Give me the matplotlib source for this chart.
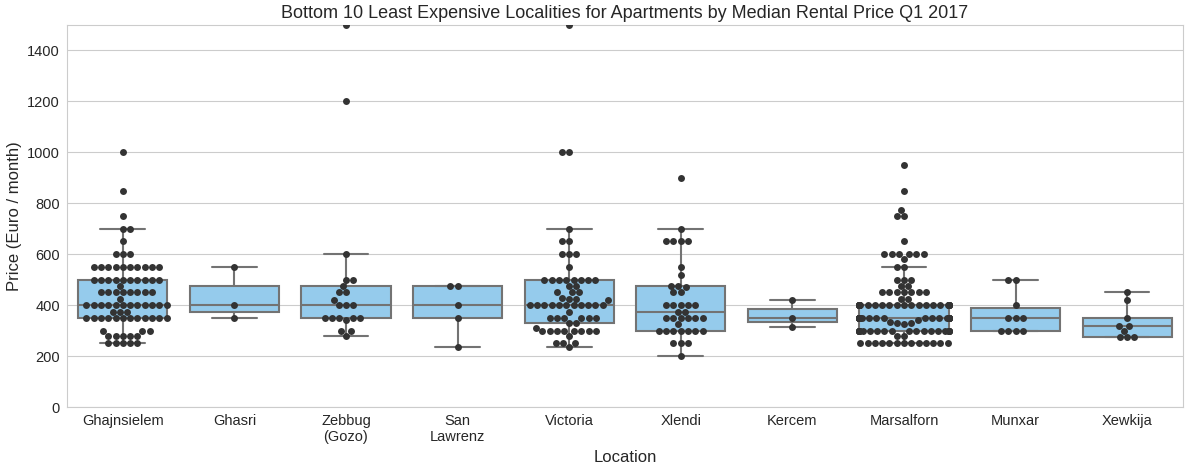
import numpy as np
import pandas as pd
import matplotlib
matplotlib.use('Agg')
import matplotlib.pyplot as plt
import seaborn as sns

# Monthly rent (Euro) per listing
ghajnsielem = ([250]*5 + [280]*5 + [300]*3 + [350]*12 + [375]*3 + [400]*12 + [425]
               + [450]*8 + [475] + [500]*10 + [550]*10 + [600]*3 + [650] + [700]*2
               + [750, 850, 1000])
ghasri = [350, 400, 550]
zebbug = [280, 300, 300, 340, 350, 350, 350, 350, 350, 400, 400, 400, 420,
          450, 450, 475, 500, 500, 600, 1200, 1500]
san_lawrenz = [235, 350, 400, 475, 475]
victoria = ([235] + [250]*3 + [280] + [300]*8 + [310] + [330]*2 + [350]*6 + [375]
            + [400]*11 + [420] + [425]*2 + [430] + [450]*3 + [475]*2 + [500]*8
            + [550] + [600]*3 + [650]*2 + [700] + [1000]*2 + [1500])
xlendi = ([200] + [250]*3 + [300]*7 + [325] + [350]*6 + [375]*2 + [400]*5
          + [450]*2 + [470] + [475]*2 + [520, 550] + [650]*4 + [700, 900])
kercem = [315, 350, 420]
marsalforn = ([250]*13 + [280]*2 + [300]*20 + [325, 330, 330, 335, 340] + [350]*25
              + [400]*26 + [425]*2 + [450]*7 + [475]*2 + [500]*3 + [550]*2 + [580]
              + [600]*6 + [650] + [750]*2 + [775, 850, 950])
munxar = [300, 300, 300, 300, 350, 350, 350, 400, 500, 500]
xewkija = [275, 275, 275, 300, 320, 320, 350, 420, 450]

localities = ['Ghajnsielem', 'Ghasri', 'Zebbug\n(Gozo)', 'San\nLawrenz', 'Victoria',
              'Xlendi', 'Kercem', 'Marsalforn', 'Munxar', 'Xewkija']
prices = [ghajnsielem, ghasri, zebbug, san_lawrenz, victoria,
          xlendi, kercem, marsalforn, munxar, xewkija]

rows = [(loc, p) for loc, vals in zip(localities, prices) for p in vals]
df = pd.DataFrame(rows, columns=['Location', 'Price'])

sns.set_style('whitegrid')
plt.rcParams['font.family'] = ['Liberation Sans', 'DejaVu Sans']

fig = plt.figure(figsize=(11.9, 4.7), dpi=100)
ax = fig.add_axes([0.0563, 0.134, 0.9378, 0.8128])

sns.boxplot(data=df, x='Location', y='Price', order=localities, color='lightskyblue',
            showfliers=False, linewidth=1.5, ax=ax)
sns.swarmplot(data=df, x='Location', y='Price', order=localities, color='.2',
              size=5, ax=ax)

ax.set_ylim(0, 1500)
ax.set_yticks(np.arange(0, 1401, 200))
ax.tick_params(axis='both', length=0, labelsize=10.5, pad=5, colors='.15')
ax.set_xlabel('Location', fontsize=12, color='.15')
ax.set_ylabel('Price (Euro / month)', fontsize=12, color='.15')
ax.set_title('Bottom 10 Least Expensive Localities for Apartments by Median Rental Price Q1 2017',
             fontsize=13, color='.15', pad=5)

fig.savefig('out.png', dpi=100)
